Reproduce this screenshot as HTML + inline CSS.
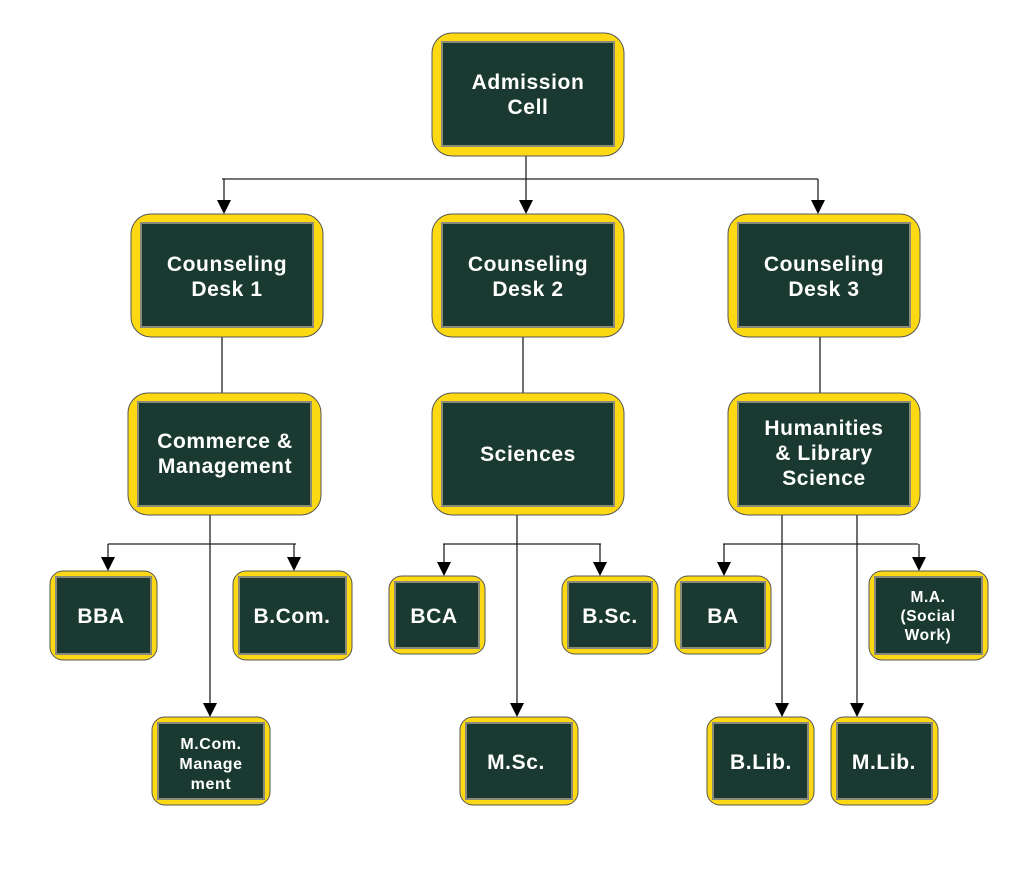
<!DOCTYPE html>
<html><head><meta charset="utf-8"><style>
body{margin:0;background:#fff}
svg text{font-family:"Liberation Sans",sans-serif;font-weight:bold;fill:#fff;text-anchor:middle;letter-spacing:0.6px}
.o{fill:#fcd912;stroke:#555;stroke-width:1}
.i{fill:#1a3a31;stroke:#8a8a7a;stroke-width:2}
.l{stroke:#222;stroke-width:1.3;fill:none}
.a{fill:#000}
</style></head><body>
<svg width="1024" height="881" viewBox="0 0 1024 881" xmlns="http://www.w3.org/2000/svg">
<path class="l" d="M526 156V205 M222 179H818 M224 179V201 M818 179V201"/>
<polygon class="a" points="217,200 231,200 224,214"/>
<polygon class="a" points="519,200 533,200 526,214"/>
<polygon class="a" points="811,200 825,200 818,214"/>
<path class="l" d="M222 337V393 M523 337V393 M820 337V393"/>
<path class="l" d="M210 515V704 M108 544H296 M108 544V558 M294 544V558"/>
<polygon class="a" points="203,703 217,703 210,717"/>
<polygon class="a" points="101,557 115,557 108,571"/>
<polygon class="a" points="287,557 301,557 294,571"/>
<path class="l" d="M517 515V704 M443 544H601 M444 544V563 M600 544V563"/>
<polygon class="a" points="510,703 524,703 517,717"/>
<polygon class="a" points="437,562 451,562 444,576"/>
<polygon class="a" points="593,562 607,562 600,576"/>
<path class="l" d="M782 515V704 M857 515V704 M723 544H918 M724 544V563 M919 544V558"/>
<polygon class="a" points="775,703 789,703 782,717"/>
<polygon class="a" points="850,703 864,703 857,717"/>
<polygon class="a" points="717,562 731,562 724,576"/>
<polygon class="a" points="912,557 926,557 919,571"/>

<rect class="o" x="432" y="33" width="192" height="123" rx="20"/><rect class="i" x="442" y="42" width="172" height="104"/>
<text x="528" y="89" font-size="21">Admission</text><text x="528" y="114" font-size="21">Cell</text>

<rect class="o" x="131" y="214" width="192" height="123" rx="20"/><rect class="i" x="141" y="223" width="172" height="104"/>
<text x="227" y="271" font-size="21">Counseling</text><text x="227" y="296" font-size="21">Desk 1</text>
<rect class="o" x="432" y="214" width="192" height="123" rx="20"/><rect class="i" x="442" y="223" width="172" height="104"/>
<text x="528" y="271" font-size="21">Counseling</text><text x="528" y="296" font-size="21">Desk 2</text>
<rect class="o" x="728" y="214" width="192" height="123" rx="20"/><rect class="i" x="738" y="223" width="172" height="104"/>
<text x="824" y="271" font-size="21">Counseling</text><text x="824" y="296" font-size="21">Desk 3</text>

<rect class="o" x="128" y="393" width="193" height="122" rx="20"/><rect class="i" x="138" y="402" width="173" height="104"/>
<text x="225" y="448" font-size="21">Commerce &amp;</text><text x="225" y="473" font-size="21">Management</text>
<rect class="o" x="432" y="393" width="192" height="122" rx="20"/><rect class="i" x="442" y="402" width="172" height="104"/>
<text x="528" y="461" font-size="21">Sciences</text>
<rect class="o" x="728" y="393" width="192" height="122" rx="20"/><rect class="i" x="738" y="402" width="172" height="104"/>
<text x="824" y="435" font-size="21">Humanities</text><text x="824" y="460" font-size="21">&amp; Library</text><text x="824" y="485" font-size="21">Science</text>

<rect class="o" x="50" y="571" width="107" height="89" rx="13"/><rect class="i" x="56" y="577" width="95" height="77"/>
<text x="101" y="623" font-size="21">BBA</text>
<rect class="o" x="233" y="571" width="119" height="89" rx="13"/><rect class="i" x="239" y="577" width="107" height="77"/>
<text x="292" y="623" font-size="21">B.Com.</text>
<rect class="o" x="152" y="717" width="118" height="88" rx="13"/><rect class="i" x="158" y="723" width="106" height="76"/>
<text x="211" y="749" font-size="16">M.Com.</text><text x="211" y="769" font-size="16">Manage</text><text x="211" y="789" font-size="16">ment</text>
<rect class="o" x="389" y="576" width="96" height="78" rx="13"/><rect class="i" x="395" y="582" width="84" height="66"/>
<text x="434" y="623" font-size="21">BCA</text>
<rect class="o" x="562" y="576" width="96" height="78" rx="13"/><rect class="i" x="568" y="582" width="84" height="66"/>
<text x="610" y="623" font-size="21">B.Sc.</text>
<rect class="o" x="460" y="717" width="118" height="88" rx="13"/><rect class="i" x="466" y="723" width="106" height="76"/>
<text x="516" y="769" font-size="21">M.Sc.</text>
<rect class="o" x="675" y="576" width="96" height="78" rx="13"/><rect class="i" x="681" y="582" width="84" height="66"/>
<text x="723" y="623" font-size="21">BA</text>
<rect class="o" x="869" y="571" width="119" height="89" rx="13"/><rect class="i" x="875" y="577" width="107" height="77"/>
<text x="928" y="602" font-size="15.5">M.A.</text><text x="928" y="621" font-size="15.5">(Social</text><text x="928" y="640" font-size="15.5">Work)</text>
<rect class="o" x="707" y="717" width="107" height="88" rx="13"/><rect class="i" x="713" y="723" width="95" height="76"/>
<text x="761" y="769" font-size="21">B.Lib.</text>
<rect class="o" x="831" y="717" width="107" height="88" rx="13"/><rect class="i" x="837" y="723" width="95" height="76"/>
<text x="884" y="769" font-size="21">M.Lib.</text>
</svg>
</body></html>
